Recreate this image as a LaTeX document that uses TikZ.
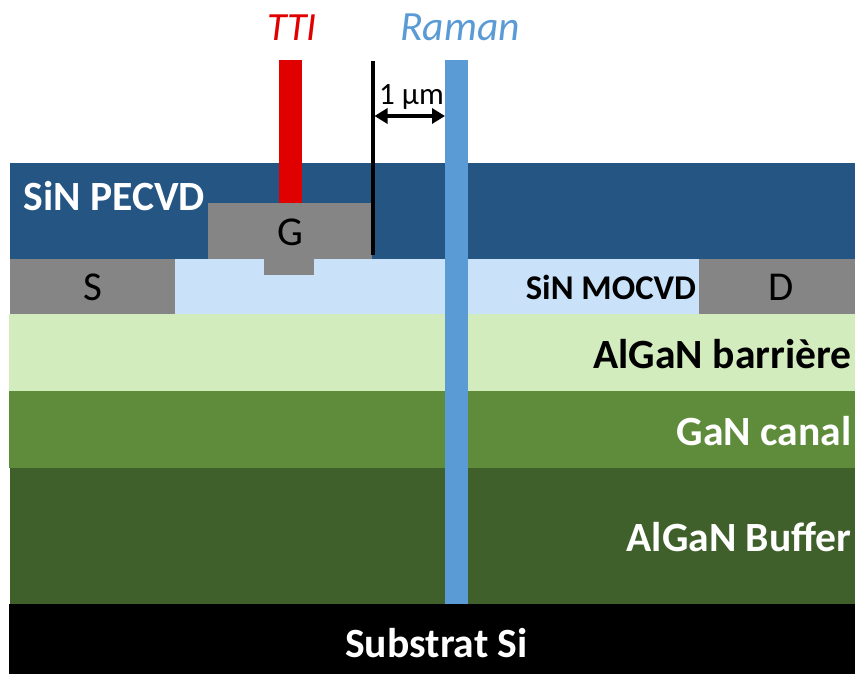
\documentclass[tikz,border=0pt]{standalone}
\usepackage{fontspec}
\setmainfont{Carlito}
\usetikzlibrary{arrows.meta}
\definecolor{pecvd}{HTML}{245583}
\definecolor{metal}{HTML}{858585}
\definecolor{mocvd}{HTML}{C9E2FA}
\definecolor{barrier}{HTML}{D2ECBE}
\definecolor{canal}{HTML}{5E8C3A}
\definecolor{buffer}{HTML}{3F602A}
\definecolor{raman}{HTML}{5B9BD5}
\definecolor{tti}{HTML}{E00000}
\tikzset{
  block/.style={fill=#1,draw=none,inner sep=0pt,outer sep=0pt},
  lbl/.style={inner sep=0pt,outer sep=0pt,font=\fontsize{41.6}{46}\selectfont\bfseries},
  thin lbl/.style={inner sep=0pt,outer sep=0pt,font=\fontsize{41}{46}\selectfont},
}
\newcommand{\blk}[6]{\fill[block=#6] (#2,#3) rectangle (#4,#5) coordinate (#1);}
\begin{document}
\begin{tikzpicture}[x=1pt,y=-1pt]
\useasboundingbox (0,0) rectangle (855,674);
\blk{pecvdl}{10}{163}{855}{259}{pecvd}
\blk{mocvdl}{175}{259}{699}{314}{mocvd}
\blk{sourcel}{10}{259}{175}{314}{metal}
\blk{drainl}{699}{259}{855}{314}{metal}
\blk{barrierl}{9}{314}{855}{391}{barrier}
\blk{canall}{9}{391}{855}{468}{canal}
\blk{bufferl}{10}{468}{855}{604}{buffer}
\blk{substratl}{9}{604}{855}{674}{black}
\blk{gatel}{208}{203}{372}{259}{metal}
\blk{footl}{264}{259}{314}{275}{metal}
\blk{ttil}{279}{60}{302}{203}{tti}
\blk{ramanl}{445}{60}{468}{604}{raman}
% texts
\node[lbl,text=white,anchor=base west] (tpecvd) at (23.5,211) {SiN PECVD};
\node[thin lbl,anchor=base] (tg) at (290,245) {G};
\node[thin lbl,anchor=base] (ts) at (93,300) {S};
\node[thin lbl,anchor=base] (td) at (781.5,300) {D};
\node[lbl,anchor=base east,font=\fontsize{34.7}{38}\selectfont\bfseries] (tmocvd) at (696,299) {SiN MOCVD};
\node[lbl,anchor=base east] (tbarrier) at (851.5,368) {AlGaN barrière};
\node[lbl,anchor=base east,text=white] (tcanal) at (851.5,445) {GaN canal};
\node[lbl,anchor=base east,text=white] (tbuffer) at (851.5,551) {AlGaN Buffer};
\node[lbl,anchor=base,text=white] (tsub) at (436.5,657) {Substrat Si};
\node[thin lbl,anchor=base,text=tti,font=\fontsize{40}{44}\selectfont\itshape] (ttti) at (292,41) {TTI};
\node[thin lbl,anchor=base,text=raman,font=\fontsize{41.6}{46}\selectfont\itshape] (traman) at (460,41) {Raman};
\node[thin lbl,anchor=base,font=\fontsize{31}{34}\selectfont] (tum) at (411.5,105) {1 µm};
% marker and dimension
\coordinate (mtop) at (373,61);
\coordinate (mbot) at (373,255);
\coordinate (al) at (374.5,116);
\coordinate (ar) at (445,116);
\draw[line width=4pt,black] (mtop) -- (mbot);
\draw[line width=4pt,{Triangle[width=15pt,length=13pt]}-{Triangle[width=15pt,length=13pt]}] (al) -- (ar);
\end{tikzpicture}
\end{document}
